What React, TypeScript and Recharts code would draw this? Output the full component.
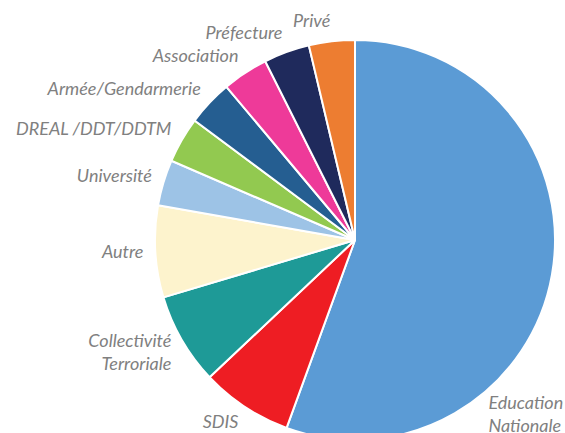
import { PieChart, Pie, Cell } from 'recharts'

const categories = [
  'Education\nNationale',
  'SDIS',
  'Collectivité\nTerroriale',
  'Autre',
  'Université',
  'DREAL /DDT/DDTM',
  'Armée/Gendarmerie',
  'Association',
  'Préfecture',
  'Privé',
]
const counts = [15, 2, 2, 2, 1, 1, 1, 1, 1, 1]
const colors = [
  '#5B9BD5',
  '#EE1D23',
  '#1E9A97',
  '#FDF3CD',
  '#9DC3E6',
  '#92C950',
  '#255E91',
  '#EE3A99',
  '#1F2A5C',
  '#ED7D31',
]

const data = categories.map((name, i) => ({ name, value: counts[i] }))

const RAD = Math.PI / 180
const FONT = 18
const LINE_H = 23
// the big slice's label doesn't fit beside it, Excel drops it lower right
const labelAngleOverride: Record<number, number> = { 0: 141 }

function renderLabel(props: any) {
  const { cx, cy, midAngle, outerRadius, index } = props
  // theta: degrees clockwise from 12 o'clock
  const theta = labelAngleOverride[index] ?? 90 - midAngle
  const s = Math.sin(theta * RAD)
  const c = Math.cos(theta * RAD)
  const r = outerRadius + 12
  const x = cx + r * s
  const y = cy - r * c
  const lines = categories[index].split('\n')
  const h = lines.length * FONT
  const midY = y - (h / 2) * c * 0.8 - 2
  const anchor = s < -0.05 ? 'end' : s > 0.05 ? 'start' : 'middle'
  const firstY = midY - ((lines.length - 1) / 2) * LINE_H
  return (
    <text
      key={`lbl-${index}`}
      x={x}
      y={firstY}
      textAnchor={anchor}
      dominantBaseline="central"
      fill="#808080"
      fontStyle="italic"
      fontSize={FONT}
      fontFamily="Lato, 'Open Sans', sans-serif"
    >
      {lines.map((l, i) => (
        <tspan key={i} x={x} dy={i === 0 ? 0 : LINE_H}>
          {l}
        </tspan>
      ))}
    </text>
  )
}

export default function App() {
  return (
    <div style={{ width: 565, height: 433, background: '#fff' }}>
      <style>{`body{margin:0}`}</style>
      <PieChart width={565} height={433} margin={{ top: 0, right: 0, bottom: 0, left: 0 }}>
        <Pie
          data={data}
          dataKey="value"
          nameKey="name"
          cx={355}
          cy={240}
          outerRadius={200}
          startAngle={90}
          endAngle={-270}
          stroke="#fff"
          strokeWidth={2}
          label={renderLabel}
          labelLine={false}
          isAnimationActive={false}
        >
          {data.map((d, i) => (
            <Cell key={d.name} fill={colors[i]} />
          ))}
        </Pie>
      </PieChart>
    </div>
  )
}
